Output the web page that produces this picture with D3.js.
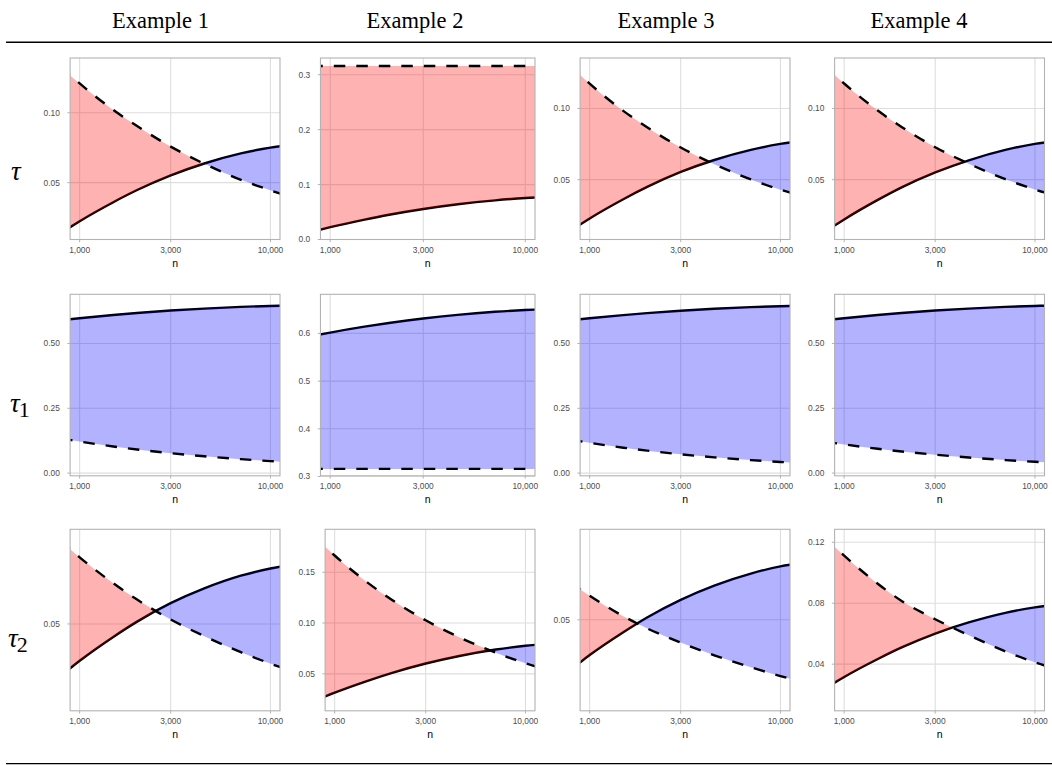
<!DOCTYPE html>
<html><head><meta charset="utf-8">
<script src="https://cdn.jsdelivr.net/npm/d3@7"></script>
<style>body{margin:0;background:#fff}svg{display:block}</style>
</head><body>
<svg id="chart" width="1052" height="765"></svg>
<script>
// ---------- data ----------
const examples = ["Example 1", "Example 2", "Example 3", "Example 4"];
const rowSymbols = ["τ", "τ", "τ"];
const rowSubscripts = ["", "1", "2"];
const nValues = [800, 1000, 1500, 2000, 3000, 4500, 7000, 10000, 12500];
const xLimits = [1000, 10000];
const xTicks = [1000, 3000, 10000];
const xTickLabels = ["1,000", "3,000", "10,000"];
const xTitle = "n";

// row τ
const tauSolid = [
  [0.0140, 0.0224, 0.0360, 0.0447, 0.0552, 0.0637, 0.0709, 0.0751, 0.0769],
  [0.0139, 0.0224, 0.0362, 0.0450, 0.0555, 0.0641, 0.0713, 0.0756, 0.0774],
  [0.0144, 0.0228, 0.0363, 0.0449, 0.0554, 0.0638, 0.0709, 0.0751, 0.0769],
  [0.0137, 0.0221, 0.0358, 0.0446, 0.0551, 0.0636, 0.0709, 0.0751, 0.0769]
];
const tauDashed = [
  [0.1325, 0.1210, 0.1020, 0.0905, 0.0758, 0.0635, 0.0520, 0.0445, 0.0401],
  [0.316, 0.316, 0.316, 0.316, 0.316, 0.316, 0.316, 0.316, 0.316],
  [0.1294, 0.1174, 0.0983, 0.0868, 0.0726, 0.0609, 0.0502, 0.0430, 0.0392],
  [0.1294, 0.1175, 0.0985, 0.0870, 0.0728, 0.0612, 0.0503, 0.0431, 0.0392]
];
const tauYDomain = [[0.0093, 0.1392], [0.0, 0.3305], [0.008, 0.1354], [0.008, 0.1354]];
const tauYTicks = [[0.05, 0.10], [0.0, 0.1, 0.2, 0.3], [0.05, 0.10], [0.05, 0.10]];
const tauYTickLabels = [["0.05", "0.10"], ["0.0", "0.1", "0.2", "0.3"], ["0.05", "0.10"], ["0.05", "0.10"]];

// row τ1
const tau1Solid = [
  [0.5903, 0.5978, 0.6101, 0.6179, 0.6273, 0.6349, 0.6413, 0.6451, 0.6467],
  [0.5943, 0.6018, 0.6141, 0.6219, 0.6313, 0.6389, 0.6453, 0.6491, 0.6507],
  [0.5904, 0.5978, 0.6098, 0.6174, 0.6266, 0.6341, 0.6404, 0.6441, 0.6457],
  [0.5903, 0.5978, 0.6101, 0.6179, 0.6273, 0.6349, 0.6413, 0.6451, 0.6467]
];
const tau1Dashed = [
  [0.1340, 0.1219, 0.1028, 0.0910, 0.0768, 0.0648, 0.0537, 0.0462, 0.0420],
  [0.316, 0.316, 0.316, 0.316, 0.316, 0.316, 0.316, 0.316, 0.316],
  [0.1290, 0.1170, 0.0980, 0.0866, 0.0725, 0.0608, 0.0502, 0.0430, 0.0391],
  [0.1212, 0.1107, 0.0939, 0.0835, 0.0709, 0.0601, 0.0502, 0.0435, 0.0397]
];
const tau1YDomain = [[-0.0105, 0.690], [0.3015, 0.682], [-0.0105, 0.690], [-0.0105, 0.690]];
const tau1YTicks = [[0, 0.25, 0.5], [0.3, 0.4, 0.5, 0.6], [0, 0.25, 0.5], [0, 0.25, 0.5]];
const tau1YTickLabels = [["0.00", "0.25", "0.50"], ["0.3", "0.4", "0.5", "0.6"], ["0.00", "0.25", "0.50"], ["0.00", "0.25", "0.50"]];

// row τ2
const tau2Solid = [
  [0.0301, 0.0358, 0.0450, 0.0509, 0.0580, 0.0637, 0.0686, 0.0714, 0.0726],
  [0.0241, 0.0315, 0.0434, 0.0510, 0.0602, 0.0676, 0.0739, 0.0776, 0.0792],
  [0.0309, 0.0364, 0.0452, 0.0509, 0.0577, 0.0632, 0.0678, 0.0706, 0.0717],
  [0.0243, 0.0316, 0.0434, 0.0510, 0.0601, 0.0674, 0.0737, 0.0773, 0.0789]
];
const tau2Dashed = [
  [0.0819, 0.0757, 0.0657, 0.0594, 0.0517, 0.0453, 0.0391, 0.0347, 0.0322],
  [0.1838, 0.1665, 0.1393, 0.1228, 0.1027, 0.0860, 0.0708, 0.0605, 0.0548],
  [0.0642, 0.0593, 0.0514, 0.0467, 0.0412, 0.0363, 0.0317, 0.0283, 0.0264],
  [0.1227, 0.1112, 0.0928, 0.0815, 0.0695, 0.0590, 0.0484, 0.0412, 0.0373]
];
const tau2YDomain = [[0.0165, 0.0865], [0.0136, 0.1923], [0.0149, 0.0849], [0.0094, 0.1285]];
const tau2YTicks = [[0.05], [0.05, 0.10, 0.15], [0.05], [0.04, 0.08, 0.12]];
const tau2YTickLabels = [["0.05"], ["0.05", "0.10", "0.15"], ["0.05"], ["0.04", "0.08", "0.12"]];

// ---------- layout ----------
const W = 1052, H = 765;
const colRight = [280, 535, 790, 1044.5];
const headerX = [160.5, 415, 666, 919];
const rowTop = [58, 294.3, 529.3];
const panelH = 181.5;
const rowLabelX = [11, 10, 8];
const rowLabelBaseline = [180, 411.7, 646.7];

const rows = [
  { solid: tauSolid, dashed: tauDashed, dom: tauYDomain, ticks: tauYTicks, labels: tauYTickLabels },
  { solid: tau1Solid, dashed: tau1Dashed, dom: tau1YDomain, ticks: tau1YTicks, labels: tau1YTickLabels },
  { solid: tau2Solid, dashed: tau2Dashed, dom: tau2YDomain, ticks: tau2YTicks, labels: tau2YTickLabels }
];

const svg = d3.select("#chart");
const defs = svg.append("defs");
const SANS = "'Liberation Sans', Arial, Helvetica, sans-serif";
const SERIF = "'Liberation Serif', 'Times New Roman', serif";
const tickFont = 8.4, titleFont = 10.5;
const gridCol = "#dedede", borderCol = "#b3b3b3", tickLabelCol = "#4d4d4d";
const tickLen = 2.7, labelGap = 10.3, lineW = 2.4;

// headers and rules
svg.selectAll("text.header").data(examples).join("text")
  .attr("class", "header")
  .attr("x", (d, i) => headerX[i]).attr("y", 27.5)
  .attr("text-anchor", "middle")
  .attr("font-family", SERIF).attr("font-size", 22.5).attr("fill", "#000")
  .text(d => d);
svg.append("line").attr("x1", 6).attr("x2", W).attr("y1", 42.2).attr("y2", 42.2)
  .attr("stroke", "#000").attr("stroke-width", 1.6);
svg.append("line").attr("x1", 6).attr("x2", W).attr("y1", 763.6).attr("y2", 763.6)
  .attr("stroke", "#000").attr("stroke-width", 1.3);

// row labels
rowSymbols.forEach((s, r) => {
  const t = svg.append("text")
    .attr("x", rowLabelX[r]).attr("y", rowLabelBaseline[r])
    .attr("font-family", SERIF).attr("font-size", 27).attr("fill", "#000");
  t.append("tspan").attr("font-style", "italic").text(s);
  if (rowSubscripts[r]) {
    t.append("tspan").attr("dx", -1).attr("dy", 5).attr("font-size", 22).text(rowSubscripts[r]);
  }
});

// measuring helper
const measure = svg.append("text").attr("font-family", SANS).attr("font-size", tickFont).attr("visibility", "hidden");
function textW(s) { measure.text(s); return measure.node().getComputedTextLength(); }

const lr = Math.log10(xLimits[1] / xLimits[0]);
const xDom = [xLimits[0] / Math.pow(10, 0.05 * lr), xLimits[1] * Math.pow(10, 0.05 * lr)];

let uid = 0;
rows.forEach((row, r) => {
  for (let c = 0; c < 4; c++) {
    const labels = row.labels[c];
    const maxW = d3.max(labels, textW);
    const labelLeft = colRight[c] - 236.5;
    const x0 = labelLeft + maxW + labelGap;
    const x1 = colRight[c];
    const y0 = rowTop[r], y1 = rowTop[r] + panelH;
    const x = d3.scaleLog().domain(xDom).range([x0, x1]);
    const y = d3.scaleLinear().domain(row.dom[c]).range([y1, y0]);
    const g = svg.append("g");

    // grid
    g.selectAll("line.gx").data(xTicks).join("line")
      .attr("x1", d => x(d)).attr("x2", d => x(d)).attr("y1", y0).attr("y2", y1)
      .attr("stroke", gridCol).attr("stroke-width", 1.1);
    g.selectAll("line.gy").data(row.ticks[c]).join("line")
      .attr("x1", x0).attr("x2", x1).attr("y1", d => y(d)).attr("y2", d => y(d))
      .attr("stroke", gridCol).attr("stroke-width", 1.1);

    const pts = nValues.map((n, i) => ({ n, s: row.solid[c][i], d: row.dashed[c][i] }));
    const curve = d3.curveMonotoneX;

    const panelId = "pclip" + (uid++);
    defs.append("clipPath").attr("id", panelId)
      .append("rect").attr("x", x0).attr("y", y0).attr("width", x1 - x0).attr("height", y1 - y0);

    const belowDashedId = "bd" + (uid++);
    const belowSolidId = "bs" + (uid++);
    defs.append("clipPath").attr("id", belowDashedId).append("path")
      .attr("d", d3.area().x(p => x(p.n)).y0(y1 + 60).y1(p => y(p.d)).curve(curve)(pts));
    defs.append("clipPath").attr("id", belowSolidId).append("path")
      .attr("d", d3.area().x(p => x(p.n)).y0(y1 + 60).y1(p => y(p.s)).curve(curve)(pts));

    const pg = g.append("g").attr("clip-path", `url(#${panelId})`);

    // solid line
    pg.append("path")
      .attr("d", d3.line().x(p => x(p.n)).y(p => y(p.s)).curve(curve)(pts))
      .attr("fill", "none").attr("stroke", "#000").attr("stroke-width", lineW);

    // red: solid < v < dashed
    pg.append("g").attr("clip-path", `url(#${belowDashedId})`).append("path")
      .attr("d", d3.area().x(p => x(p.n)).y0(p => y(p.s)).y1(y0 - 60).curve(curve)(pts))
      .attr("fill", "#ff0000").attr("fill-opacity", 0.3);
    // blue: dashed < v < solid
    pg.append("g").attr("clip-path", `url(#${belowSolidId})`).append("path")
      .attr("d", d3.area().x(p => x(p.n)).y0(p => y(p.d)).y1(y0 - 60).curve(curve)(pts))
      .attr("fill", "#0000ff").attr("fill-opacity", 0.3);

    // dashed line
    pg.append("path")
      .attr("d", d3.line().x(p => x(p.n)).y(p => y(p.d)).curve(curve)(pts))
      .attr("fill", "none").attr("stroke", "#000").attr("stroke-width", lineW)
      .attr("stroke-dasharray", "11.5 11");

    // border
    g.append("rect").attr("x", x0).attr("y", y0).attr("width", x1 - x0).attr("height", y1 - y0)
      .attr("fill", "none").attr("stroke", borderCol).attr("stroke-width", 1.1);

    // y axis ticks + labels
    g.selectAll("line.ty").data(row.ticks[c]).join("line")
      .attr("x1", x0 - tickLen).attr("x2", x0).attr("y1", d => y(d)).attr("y2", d => y(d))
      .attr("stroke", borderCol).attr("stroke-width", 1);
    g.selectAll("text.ly").data(row.ticks[c]).join("text")
      .attr("x", labelLeft + maxW).attr("y", d => y(d)).attr("dy", "0.35em")
      .attr("text-anchor", "end").attr("font-family", SANS).attr("font-size", tickFont)
      .attr("fill", tickLabelCol)
      .text((d, i) => labels[i]);

    // x axis ticks + labels
    g.selectAll("line.tx").data(xTicks).join("line")
      .attr("x1", d => x(d)).attr("x2", d => x(d)).attr("y1", y1).attr("y2", y1 + tickLen)
      .attr("stroke", borderCol).attr("stroke-width", 1);
    g.selectAll("text.lx").data(xTicks).join("text")
      .attr("x", d => x(d)).attr("y", y1 + 13)
      .attr("text-anchor", "middle").attr("font-family", SANS).attr("font-size", tickFont)
      .attr("fill", tickLabelCol)
      .text((d, i) => xTickLabels[i]);
    g.append("text")
      .attr("x", (x0 + x1) / 2).attr("y", y1 + 27.5)
      .attr("text-anchor", "middle").attr("font-family", SANS).attr("font-size", titleFont)
      .attr("fill", "#000").text(xTitle);
  }
});
measure.remove();
</script>
</body></html>
